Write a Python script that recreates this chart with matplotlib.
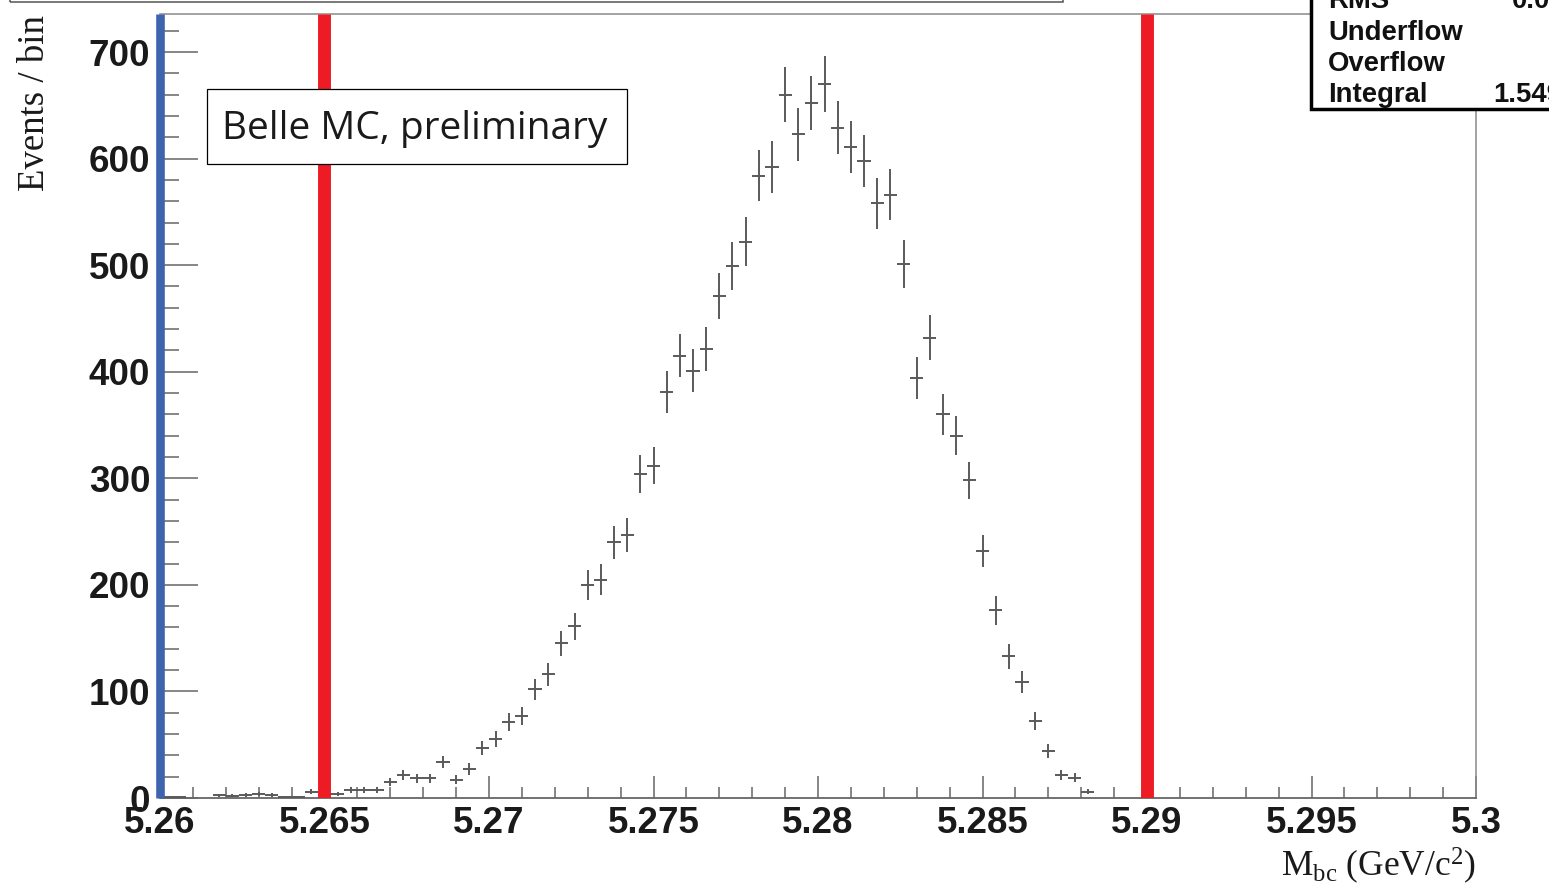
import numpy as np
import matplotlib
matplotlib.use("Agg")
import matplotlib.pyplot as plt
from matplotlib.patches import Rectangle
from matplotlib.ticker import MultipleLocator, FixedLocator

# ---- data -------------------------------------------------------------
# M_bc histogram, 100 bins between 5.26 and 5.30 GeV/c^2
x_lo, x_hi, n_bins = 5.26, 5.30, 100
counts = [
    0.6, 0.6, 0, 0, 2.5, 2, 3, 4, 3, 0.6,
    0.6, 6, 4, 3.5, 7.5, 7.5, 7.5, 14.7, 22, 18.4,
    18.4, 34, 17.2, 27.2, 47, 55.3, 71.5, 77, 102, 116,
    145, 161, 200, 205, 240, 247, 304, 312, 381, 415,
    401, 421, 471, 499, 522, 584, 592, 660, 623, 652,
    670, 629, 611, 598, 558, 566, 501, 394, 432, 360,
    340, 298, 232, 176, 133, 109, 72, 44, 21.5, 19,
    6, 0, 0, 0, 0, 0, 0, 0, 0, 0,
    0, 0, 0, 0, 0, 0, 0, 0, 0, 0,
    0, 0, 0, 0, 0, 0, 0, 0, 0, 0,
]
signal_window = [5.265, 5.29]
x_ticks = [5.26, 5.265, 5.27, 5.275, 5.28, 5.285, 5.29, 5.295, 5.30]
x_tick_labels = ["5.26", "5.265", "5.27", "5.275", "5.28", "5.285", "5.29", "5.295", "5.3"]
y_ticks = [0, 100, 200, 300, 400, 500, 600, 700]
y_top = 735.7
stats_labels = ["RMS", "Underflow", "Overflow", "Integral"]
stats_values = ["0.003", "", "", "1.549e+04"]
label_text = "Belle MC, preliminary"

# ---- figure -----------------------------------------------------------
W, H = 1549, 884
fig = plt.figure(figsize=(W / 100, H / 100), dpi=100)
plt.rcParams["mathtext.fontset"] = "custom"
plt.rcParams["mathtext.rm"] = "Liberation Serif"
plt.rcParams["mathtext.it"] = "Liberation Serif:italic"


def fx(px):
    return px / W


def fy(py):
    return 1 - py / H


ax = fig.add_axes([fx(160), fy(798), fx(1476) - fx(160), fy(14) - fy(798)])

edges = np.linspace(x_lo, x_hi, n_bins + 1)
centers = 0.5 * (edges[:-1] + edges[1:])
half = 0.5 * (edges[1] - edges[0])
y = np.asarray(counts, dtype=float)
filled = y > 0

ax.errorbar(centers[filled], y[filled], xerr=half, yerr=np.sqrt(y[filled]),
            fmt="none", ecolor="#5a5a5a", elinewidth=1.4, capsize=0, zorder=3)

# signal window
for xv in signal_window:
    ax.axvline(xv, color="#ED1C24", lw=9.3, zorder=5, solid_capstyle="butt")

ax.set_xlim(x_lo, x_hi)
ax.set_ylim(0, y_top)

ax.xaxis.set_major_locator(FixedLocator(x_ticks))
ax.set_xticklabels(x_tick_labels)
ax.xaxis.set_minor_locator(MultipleLocator(0.001))
ax.yaxis.set_major_locator(FixedLocator(y_ticks))
ax.yaxis.set_minor_locator(MultipleLocator(20))

for lab in ax.get_xticklabels() + ax.get_yticklabels():
    lab.set_fontfamily("Liberation Sans")
    lab.set_fontweight("bold")
    lab.set_fontsize(26.5)
    lab.set_color("#1a1a1a")

ax.tick_params(axis="x", which="major", direction="in", length=16, width=1.1,
               color="#666666", pad=6, top=False)
ax.tick_params(axis="x", which="minor", direction="in", length=8, width=1.1,
               color="#666666", top=False)
ax.tick_params(axis="y", which="major", direction="in", length=27, width=1.1,
               color="#666666", pad=7, right=False)
ax.tick_params(axis="y", which="minor", direction="in", length=14, width=1.1,
               color="#666666", right=False)

for side in ("top", "right"):
    ax.spines[side].set_color("#8a8a8a")
    ax.spines[side].set_linewidth(1.1)
ax.spines["bottom"].set_color("#666666")
ax.spines["bottom"].set_linewidth(1.3)
ax.spines["left"].set_visible(False)

# blue left axis bar
ax.axvline(x_lo, color="#3E64AE", lw=6.2, zorder=6, clip_on=False,
           solid_capstyle="butt")

# axis titles
fig.text(fx(35), fy(15), "Events / bin", rotation=90, ha="center", va="top",
         family="Liberation Serif", size=26.5, color="#1a1a1a")
fig.text(fx(1476), fy(876), r"M$_{\rm bc}$ (GeV/c$^{2}$)", ha="right",
         va="baseline", family="Liberation Serif", size=25.5, color="#1a1a1a")

# label box
fig.patches.append(Rectangle((fx(207), fy(164)), fx(627) - fx(207), fy(89) - fy(164),
                             transform=fig.transFigure, facecolor="white",
                             edgecolor="black", lw=0.9, zorder=10))
fig.text(fx(222), fy(139), label_text, ha="left", va="baseline",
         family="Open Sans", size=28, color="#1a1a1a", zorder=11)

# title box edge at the top
fig.patches.append(Rectangle((fx(10), fy(2)), fx(1063) - fx(10), fy(-40) - fy(2),
                             transform=fig.transFigure, facecolor="none",
                             edgecolor="#555555", lw=1.1, zorder=10))

# statistics box
fig.patches.append(Rectangle((fx(1311), fy(109)), fx(1600) - fx(1311), fy(-40) - fy(109),
                             transform=fig.transFigure, facecolor="white",
                             edgecolor="black", lw=2.5, zorder=10))
for i, (name, val) in enumerate(zip(stats_labels, stats_values)):
    yy = fy(1.5 + 31.2 * i)
    fig.text(fx(1328), yy, name, ha="left", va="center", family="Liberation Sans",
             weight="bold", size=19.8, color="#111111", zorder=11)
    if val:
        xv = 1512 if i == 0 else 1493
        fig.text(fx(xv), yy, val, ha="left", va="center", family="Liberation Sans",
                 weight="bold", size=19.8, color="#111111", zorder=11)

fig.savefig("out.png", dpi=100)
